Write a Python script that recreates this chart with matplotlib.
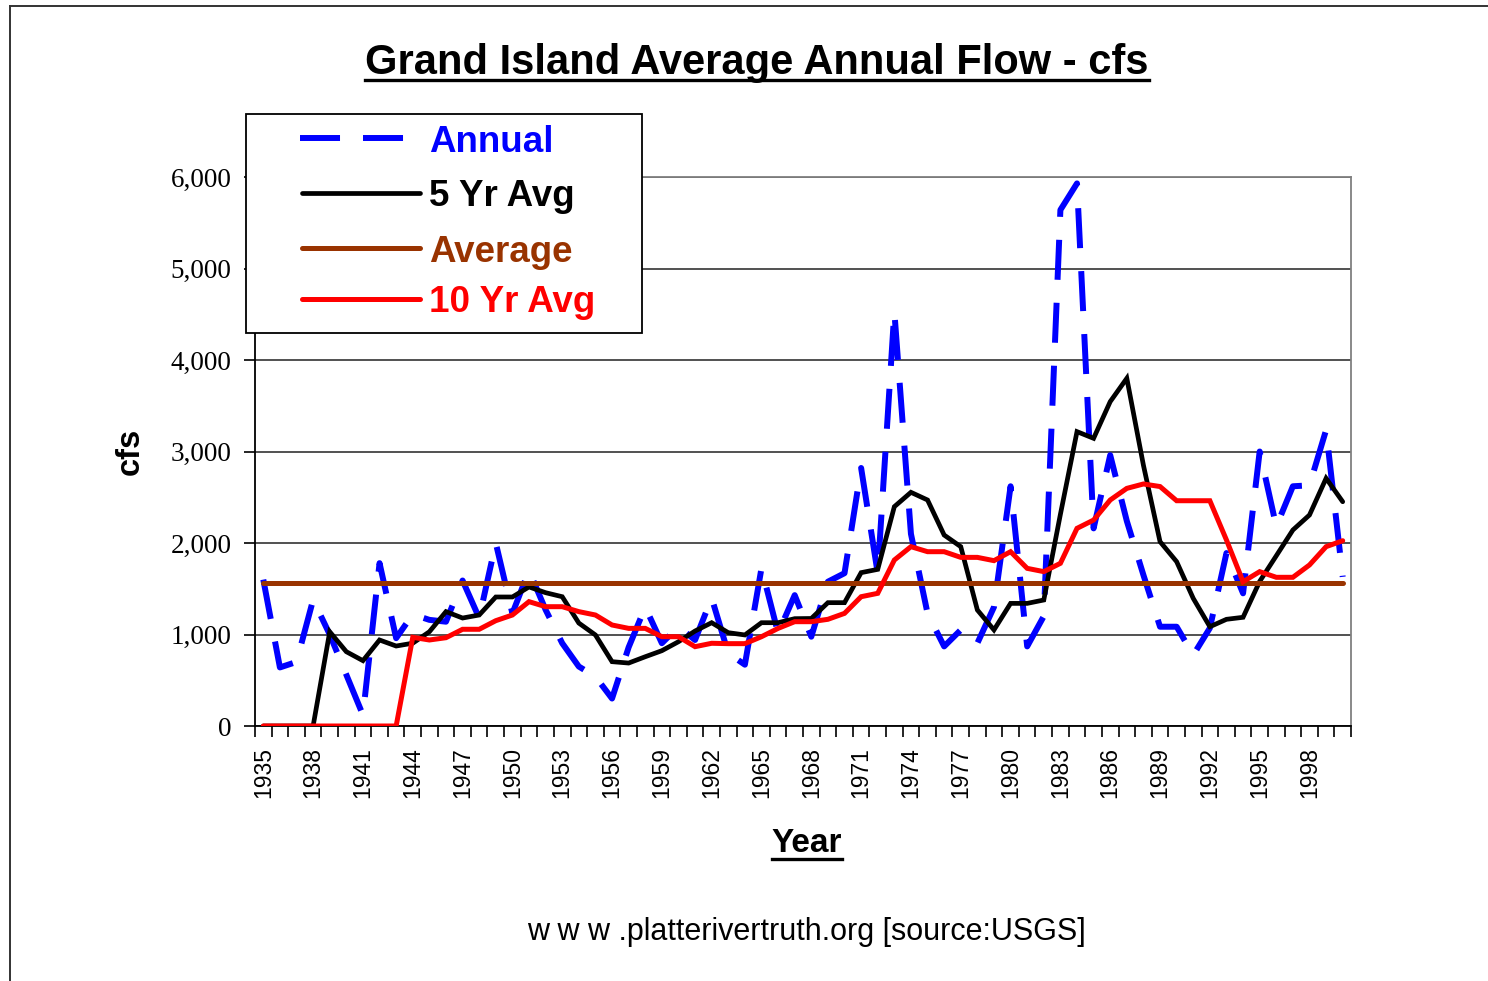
import matplotlib
matplotlib.use("Agg")
import matplotlib.pyplot as plt
from matplotlib.lines import Line2D
from matplotlib.patches import Rectangle
from matplotlib.ticker import FuncFormatter

# Grand Island average annual flow (cfs)
years = list(range(1935, 2001))

annual = [1600, 640, 700, 1380, 1000, 560, 120, 1780, 960, 1220,
          1160, 1140, 1590, 1180, 2000, 1230, 1700, 1270, 905, 650,
          540, 300, 860, 1300, 905, 1085, 940, 1400, 795, 670,
          1725, 1015, 1430, 976, 1577, 1670, 2820, 1670, 4530, 2100,
          1230, 870, 1050, 905, 1300, 2620, 870, 1200, 5640, 5930,
          2160, 2960, 2240, 1650, 1085, 1085, 775, 1070, 1890, 1450,
          3000, 2180, 2620, 2630, 3235, 1630]

five_yr = [0, 0, 0, 0, 1030, 812, 714, 940, 874, 905,
           1030, 1250, 1180, 1213, 1410, 1410, 1520, 1457, 1413, 1125,
           995, 703, 688, 757, 823, 921, 1038, 1129, 1020, 995,
           1129, 1129, 1173, 1175, 1348, 1348, 1676, 1712, 2397, 2554,
           2470, 2087, 1960, 1268, 1050, 1340, 1340, 1377, 2313, 3217,
           3144, 3545, 3800, 2850, 2015, 1796, 1395, 1085, 1166, 1188,
           1580, 1860, 2142, 2306, 2707, 2451]

ten_yr = [0, 0, 0, 0, 0, 0, 0, 0, 0, 969,
          940, 965, 1057, 1057, 1151, 1213, 1359, 1304, 1304, 1250,
          1213, 1104, 1067, 1067, 976, 976, 867, 904, 900, 900,
          976, 1067, 1140, 1140, 1166, 1231, 1413, 1450, 1814, 1960,
          1905, 1905, 1843, 1843, 1807, 1905, 1723, 1687, 1778, 2160,
          2251, 2470, 2597, 2645, 2617, 2462, 2462, 2462, 2033, 1577,
          1687, 1625, 1625, 1760, 1960, 2025]

average_flow = 1565
label_years = list(range(1935, 1999, 3))
y_ticks = [0, 1000, 2000, 3000, 4000, 5000, 6000]

series_names = ["Annual", "5 Yr Avg", "Average", "10 Yr Avg"]
series_colors = ["#0000FF", "#000000", "#993300", "#FF0000"]

W, H = 1488, 981
SANS = "Liberation Sans"
SERIF = "Liberation Serif"
DASH = (6.7, 3.85)

fig = plt.figure(figsize=(W / 100, H / 100), dpi=100)
fig.patch.set_facecolor("white")


def fx(px):
    return px / W


def fy(py):
    return 1 - py / H


# outer chart border (cut off at right and bottom like the reference)
fig.add_artist(Line2D([fx(10), fx(10)], [0, fy(6)], color="#333333", lw=1.4))
fig.add_artist(Line2D([fx(10), 1], [fy(6), fy(6)], color="#333333", lw=1.4))

ax = fig.add_axes([fx(255), fy(726), (1351 - 255) / W, (726 - 177) / H])

blue, black, brown, red = series_colors
ax.plot(years, annual, color=blue, lw=4.3, dashes=DASH,
        dash_capstyle="butt", zorder=3)
ax.plot(years, five_yr, color=black, lw=3.4, solid_capstyle="round",
        solid_joinstyle="miter", zorder=4)
ax.plot([years[0], years[-1]], [average_flow, average_flow], color=brown,
        lw=3.6, solid_capstyle="round", zorder=5)
ax.plot(years, ten_yr, color=red, lw=3.6, solid_capstyle="round",
        solid_joinstyle="miter", zorder=6)

ax.set_xlim(years[0] - 0.5, years[-1] + 0.5)
ax.set_ylim(0, 6000)

# ticks between categories, labels centred on categories
ax.set_xticks([y - 0.5 for y in years] + [years[-1] + 0.5])
ax.set_xticklabels([])
ax.tick_params(axis="x", which="major", direction="out", length=8,
               width=1.2, color="black")
ax.set_xticks(label_years, minor=True)
ax.set_xticklabels([str(y) for y in label_years], minor=True, rotation=90,
                   fontfamily=SANS, fontsize=16.5)
ax.tick_params(axis="x", which="minor", length=0, pad=15)

ax.set_yticks(y_ticks)
ax.yaxis.set_major_formatter(FuncFormatter(lambda v, p: f"{int(v):,}"))
ax.tick_params(axis="y", direction="out", length=8, width=1.2, pad=9,
               labelsize=19.5)
for lab in ax.get_yticklabels():
    lab.set_fontfamily(SERIF)

ax.grid(axis="y", color="#333333", lw=1.2, zorder=1)
ax.set_axisbelow(True)
for side in ["left", "bottom"]:
    ax.spines[side].set_color("black")
    ax.spines[side].set_linewidth(1.3)
for side in ["top", "right"]:
    ax.spines[side].set_color("#808080")
    ax.spines[side].set_linewidth(1.3)

# axis titles and chart title
fig.text(fx(130), fy(451), "cfs", rotation=90, ha="center", va="center",
         fontfamily=SANS, fontweight="bold", fontsize=23.5)
title = fig.text(fx(757), fy(63), "Grand Island Average Annual Flow - cfs",
                 ha="center", va="center", fontfamily=SANS,
                 fontweight="bold", fontsize=30)
xlab = fig.text(fx(807), fy(844), "Year", ha="center", va="center",
                fontfamily=SANS, fontweight="bold", fontsize=24)
fig.text(fx(806), fy(932), "w w w .platterivertruth.org [source:USGS]",
         ha="center", va="center", fontfamily=SANS, fontsize=22)

# underline title and x label
fig.canvas.draw()
for t, uy in [(title, 80), (xlab, 859)]:
    bb = t.get_window_extent()
    fig.add_artist(Line2D([bb.x0 / W, bb.x1 / W], [fy(uy), fy(uy)],
                          color="black", lw=2.4))

# legend box drawn by hand to match the original layout
fig.add_artist(Rectangle((fx(246), fy(333)), (642 - 246) / W, (333 - 114) / H,
                         facecolor="white", edgecolor="black", lw=1.3,
                         zorder=10))
row_y = [138, 193, 248, 299]
for i, (name, col) in enumerate(zip(series_names, series_colors)):
    yy = fy(row_y[i])
    if name == "Annual":
        ln = Line2D([fx(300), fx(404)], [yy, yy], color=col, lw=4.3,
                    dashes=DASH, dash_capstyle="butt", zorder=11)
    else:
        ln = Line2D([fx(302), fx(420)], [yy, yy], color=col,
                    lw=3.4 if name == "5 Yr Avg" else 3.6,
                    solid_capstyle="round", zorder=11)
    fig.add_artist(ln)
    fig.text(fx(429), yy, name, ha="left", va="center_baseline",
             color=col, fontfamily=SANS, fontweight="bold", fontsize=26.5,
             zorder=12)

fig.savefig("out.png", dpi=100, facecolor="white")
